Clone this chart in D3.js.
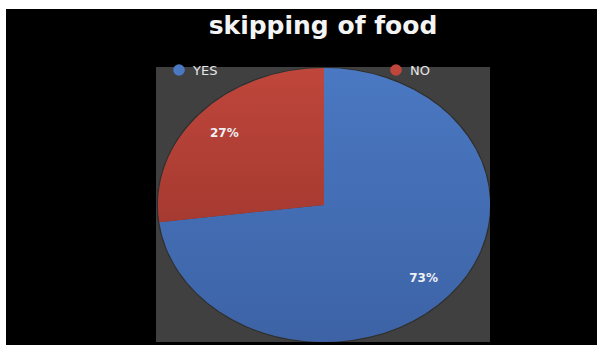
<!DOCTYPE html>
<html>
<head>
<meta charset="utf-8">
<script src="https://cdn.jsdelivr.net/npm/d3@7"></script>
<style>
  html, body { margin: 0; padding: 0; background: #ffffff; }
  svg { display: block; }
</style>
</head>
<body>
<svg id="chart" width="597" height="345"></svg>
<script>
// Survey answers: does the respondent skip food?
const categories = ["YES", "NO"];
const shares = [73, 27];
const sliceColors = ["#4a78c2", "#bf463b"];
const sliceColorsDark = ["#3d63a6", "#a63a31"];
const chartTitle = "skipping of food";

const W = 597, H = 345;
const svg = d3.select("#chart");

// black slide area with a thin white margin on the top and left
svg.append("rect").attr("x", 6).attr("y", 9).attr("width", W - 6).attr("height", H - 9).attr("fill", "#000");

// plot area
const plot = { x: 156, y: 67, w: 334, h: 275 };
svg.append("rect")
  .attr("x", plot.x).attr("y", plot.y)
  .attr("width", plot.w).attr("height", plot.h)
  .attr("fill", "#404040");

// title
svg.append("text")
  .attr("x", 323).attr("y", 34)
  .attr("text-anchor", "middle")
  .attr("font-family", "DejaVu Sans, sans-serif")
  .attr("font-weight", "bold")
  .attr("font-size", 25)
  .attr("fill", "#f4f4f4")
  .text(chartTitle);

// vertical gradients per slice
const defs = svg.append("defs");
categories.forEach((c, i) => {
  const g = defs.append("linearGradient")
    .attr("id", "grad" + i)
    .attr("x1", 0).attr("y1", 0).attr("x2", 0).attr("y2", 1);
  g.append("stop").attr("offset", "0%").attr("stop-color", sliceColors[i]);
  g.append("stop").attr("offset", "100%").attr("stop-color", sliceColorsDark[i]);
});

// pie drawn as a flattened ellipse
const cx = 324, cy = 205, rx = 166, ry = 137;
const pie = d3.pie().sort(null).value(d => d.v).startAngle(0).endAngle(2 * Math.PI);
const data = categories.map((c, i) => ({ c, v: shares[i], i }));
const arcs = pie(data);
const arc = d3.arc().innerRadius(0).outerRadius(rx);
const labelArc = d3.arc().innerRadius(rx * 0.8).outerRadius(rx * 0.8);

const pieG = svg.append("g")
  .attr("transform", `translate(${cx},${cy}) scale(1,${ry / rx})`);

// soft dark rim under the pie
pieG.append("circle")
  .attr("r", rx + 0.6)
  .attr("fill", "none")
  .attr("stroke", "rgba(0,0,0,0.28)")
  .attr("stroke-width", 1.4);

pieG.selectAll("path.slice")
  .data(arcs)
  .join("path")
  .attr("class", "slice")
  .attr("d", arc)
  .attr("fill", d => `url(#grad${d.data.i})`);

// percentage labels
svg.selectAll("text.pct")
  .data(arcs)
  .join("text")
  .attr("class", "pct")
  .attr("x", d => cx + labelArc.centroid(d)[0])
  .attr("y", d => cy + labelArc.centroid(d)[1] * ry / rx)
  .attr("dy", "0.35em")
  .attr("text-anchor", "middle")
  .attr("font-family", "DejaVu Sans, sans-serif")
  .attr("font-weight", "bold")
  .attr("font-size", 12)
  .attr("fill", "#eef0f6")
  .text(d => d.data.v + "%");

// legend
const legendX = [179, 396];
const legend = svg.selectAll("g.legend")
  .data(data)
  .join("g")
  .attr("class", "legend")
  .attr("transform", (d, i) => `translate(${legendX[i]},70)`);
legend.append("circle")
  .attr("r", 5.8)
  .attr("fill", d => sliceColors[d.i]);
legend.append("text")
  .attr("x", 14)
  .attr("dy", "0.36em")
  .attr("font-family", "DejaVu Sans, sans-serif")
  .attr("font-size", 13)
  .attr("fill", "#e6e6e6")
  .text(d => d.c);
</script>
</body>
</html>
